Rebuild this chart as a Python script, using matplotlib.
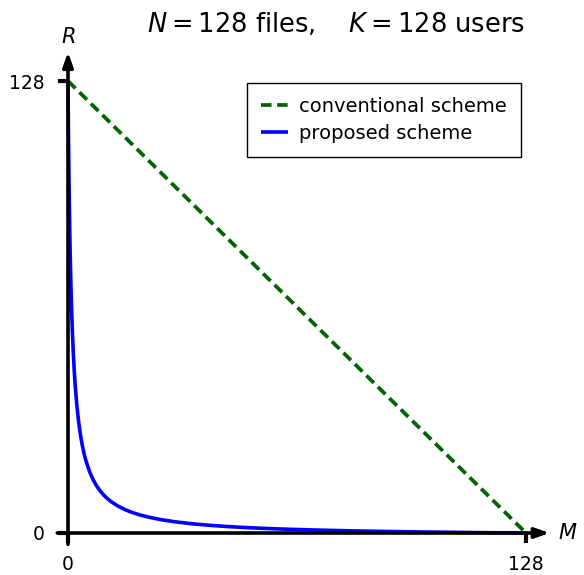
import matplotlib
matplotlib.use("Agg")
import matplotlib.pyplot as plt

# Data
conv_M = [0, 128]
conv_R = [128, 0]
prop_M = [0, 0.1, 0.2, 0.3, 0.4, 0.5, 0.6, 0.8, 1, 1.25, 1.5, 1.75, 2, 2.5, 3, 3.5,
          4, 4.5, 5, 6, 7, 8, 9, 10, 11, 12, 14, 16, 18, 20, 23, 26, 30, 35, 40, 45,
          50, 55, 60, 70, 80, 90, 100, 110, 120, 128]
prop_R = [128, 116.27, 106.5, 98.23, 91.14, 85.0, 79.63, 70.67, 63.5, 56.33, 50.6,
          45.91, 42.0, 35.86, 31.25, 27.67, 24.8, 22.45, 20.5, 17.43, 15.13, 13.33,
          11.9, 10.73, 9.75, 8.92, 7.6, 6.59, 5.79, 5.14, 4.38, 3.78, 3.16, 2.58,
          2.15, 1.80, 1.53, 1.30, 1.11, 0.82, 0.59, 0.42, 0.28, 0.16, 0.066, 0]
x_ticks = [0, 128]
y_ticks = [0, 128]
title = r"$N = 128$ files,    $K = 128$ users"
legend_labels = ["conventional scheme", "proposed scheme"]

plt.rcParams['mathtext.fontset'] = 'dejavusans'
W, H = 584, 575
fig = plt.figure(figsize=(W / 100, H / 100), dpi=100)
x0, x1 = 68, 526
y0, y1 = 533, 81
ax = fig.add_axes([x0 / W, (H - y0) / H, (x1 - x0) / W, (y0 - y1) / H])
ax.set_xlim(0, 128)
ax.set_ylim(0, 128)
for s in ax.spines.values():
    s.set_visible(False)

l1, = ax.plot(conv_M, conv_R, color='#006400', lw=2.7, linestyle=(0, (2.8, 1.5)),
              clip_on=False, zorder=2)
l2, = ax.plot(prop_M, prop_R, color='#0000ff', lw=2.6, clip_on=False, zorder=2,
              solid_capstyle='butt')

# axes with arrows
ax.annotate('', xy=(134.6, 0), xytext=(-3, 0),
            arrowprops=dict(arrowstyle='-|>,head_length=0.85,head_width=0.3', lw=2.6,
                            color='black', shrinkA=0, shrinkB=0),
            annotation_clip=False, zorder=5)
ax.annotate('', xy=(0, 136.2), xytext=(0, -3.2),
            arrowprops=dict(arrowstyle='-|>,head_length=0.85,head_width=0.3', lw=2.6,
                            color='black', shrinkA=0, shrinkB=0),
            annotation_clip=False, zorder=5)

ax.set_xticks(x_ticks)
ax.set_yticks(y_ticks)
ax.set_xticklabels([str(v) for v in x_ticks])
ax.set_yticklabels([str(v) for v in y_ticks])
ax.tick_params(axis='x', direction='out', length=7, width=3, pad=9, labelsize=13.5)
ax.tick_params(axis='y', direction='out', length=7, width=3, pad=10, labelsize=13.5)

ax.text(139.8, 0, r"$M$", fontsize=15, ha='center', va='center', clip_on=False)
ax.text(0, 140.5, r"$R$", fontsize=15, ha='center', va='center', clip_on=False)

fig.text(147 / W, 1 - 32 / H, title, fontsize=18.5, ha='left', va='baseline')

leg = ax.legend([l1, l2], legend_labels, loc='upper right',
                bbox_to_anchor=(521 / W, 1 - 83 / H), bbox_transform=fig.transFigure,
                borderaxespad=0, fancybox=False, framealpha=1, fontsize=14,
                handlelength=1.4, handletextpad=0.57, borderpad=0.72, labelspacing=0.42)
leg.get_frame().set_edgecolor('black')
leg.get_frame().set_linewidth(1.0)

fig.savefig("out.png", dpi=100)
